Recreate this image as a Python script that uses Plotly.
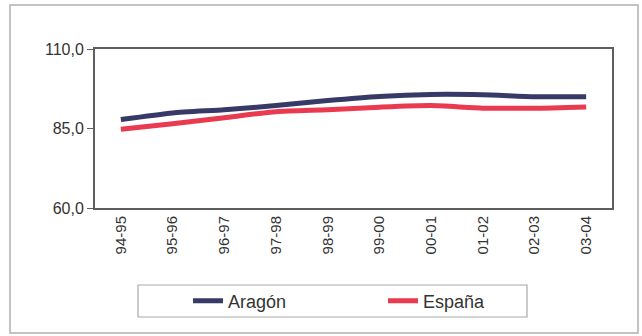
import plotly.graph_objects as go

categories = ["94-95", "95-96", "96-97", "97-98", "98-99", "99-00", "00-01", "01-02", "02-03", "03-04"]
aragon = [87.8, 89.9, 90.9, 92.2, 93.8, 95.1, 95.7, 95.6, 95.0, 95.0]
espana = [84.8, 86.5, 88.4, 90.3, 90.9, 91.7, 92.2, 91.4, 91.4, 91.8]
y_tickvals = [60, 85, 110]
y_ticktext = ["60,0", "85,0", "110,0"]

W, H = 642, 336
L, R, T, B = 95, 30, 49, 128
pw, ph = W - L - R, H - T - B

fig = go.Figure()
fig.add_trace(go.Scatter(x=categories, y=aragon, mode="lines", name="Aragón",
                         line=dict(color="#373A66", width=5, shape="spline", smoothing=0.6)))
fig.add_trace(go.Scatter(x=categories, y=espana, mode="lines", name="España",
                         line=dict(color="#EA3A50", width=5, shape="spline", smoothing=0.6)))

def px(x):
    return (x - L) / pw

def py(y):
    return (H - B - y) / ph

# outer chart frame
fig.add_shape(type="rect", xref="paper", yref="paper",
              x0=px(10), x1=px(638), y0=py(5), y1=py(333),
              line=dict(color="#B0B0B0", width=1.5), layer="below")
# legend box
fig.add_shape(type="rect", xref="paper", yref="paper",
              x0=px(138), x1=px(527), y0=py(285), y1=py(317),
              line=dict(color="#A8A8A8", width=1.2), layer="below")

fig.update_layout(
    width=W, height=H,
    margin=dict(l=L, r=R, t=T, b=B, autoexpand=False),
    paper_bgcolor="white", plot_bgcolor="white",
    font=dict(family="Liberation Sans, Arial, sans-serif", color="#333333"),
    xaxis=dict(type="category", range=[-0.5, 9.5], showgrid=False, zeroline=False,
               showline=True, mirror=True, linecolor="#5E5E5E", linewidth=2,
               tickangle=-90, tickfont=dict(size=15), ticks=""),
    yaxis=dict(range=[60, 110], tickvals=y_tickvals, ticktext=y_ticktext,
               showgrid=False, zeroline=False, showline=True, mirror=True,
               linecolor="#5E5E5E", linewidth=2, ticks="outside", ticklen=6,
               tickcolor="#5E5E5E", tickfont=dict(size=16)),
    showlegend=True,
    legend=dict(orientation="h", xanchor="left", yanchor="middle",
                x=px(188), y=py(301), borderwidth=0,
                entrywidth=150, entrywidthmode="pixels",
                font=dict(size=18, color="#333333"), bgcolor="rgba(0,0,0,0)"),
)

fig.write_html("out.html", config={"displayModeBar": False},
               post_script="document.body.style.margin='0';")
